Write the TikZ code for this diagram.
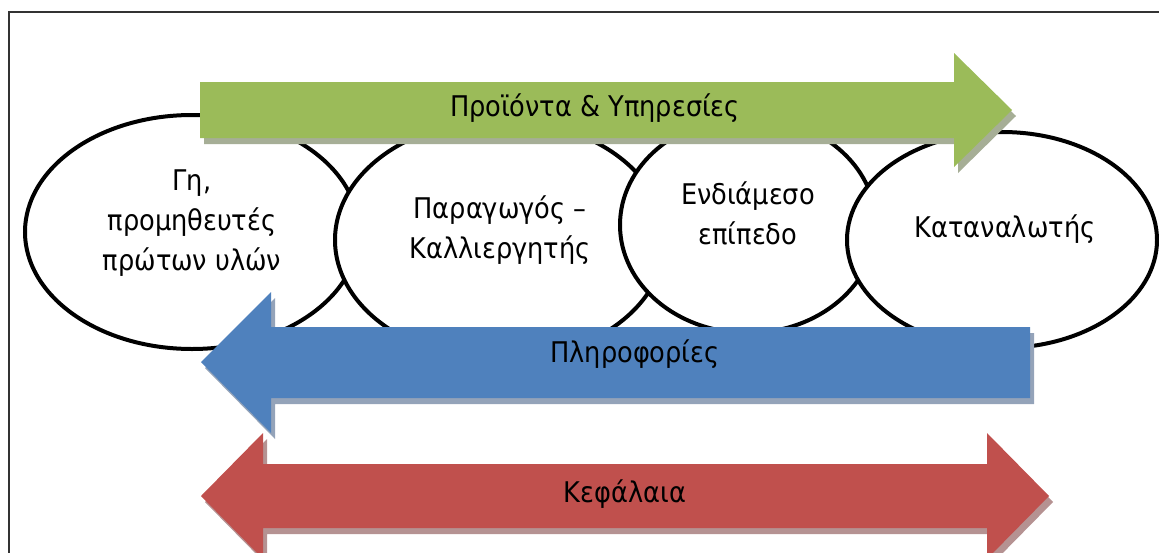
\documentclass[tikz,border=0pt]{standalone}
\usepackage{fontspec}
\setmainfont{DejaVu Sans Condensed}
\usetikzlibrary{shapes.geometric}
\definecolor{flowgreen}{RGB}{155,187,89}
\definecolor{flowblue}{RGB}{79,129,189}
\definecolor{flowred}{RGB}{192,80,77}
\definecolor{shadegreen}{RGB}{166,174,150}
\definecolor{shadeblue}{RGB}{148,163,185}
\definecolor{shadered}{RGB}{181,146,146}
\begin{document}
\begin{tikzpicture}[x=1pt,y=-1pt,
  oval/.style={ellipse, draw=black, line width=4pt, fill=white, inner sep=0pt},
  lbl/.style={align=center, font=\fontsize{28.5}{40}\selectfont, text=black, inner sep=0pt},
  frameline/.style={draw=black!80, line width=1.5pt},
]
\useasboundingbox (0,0) rectangle (1159,552);
\begin{scope}
\clip (0,0) rectangle (1159,552);
% outer frame (runs past the right and bottom edges)
\path[frameline] (9,12) rectangle (1175,575);

% chain of stakeholders, each oval laid over the previous one
\node[oval, minimum width=334pt, minimum height=234pt] (land) at (192,232) {};
\node[oval, minimum width=330pt, minimum height=240pt] (farmer) at (500,240) {};
\node[oval, minimum width=256pt, minimum height=216pt] (middle) at (748,225) {};
\node[oval, minimum width=310pt, minimum height=216pt] (consumer) at (1002,240) {};

\node[lbl] (landtxt) at (192,223) {Γη,\\προμηθευτές\\πρώτων υλών};
\node[lbl] (farmertxt) at (500,230) {Παραγωγός –\\Καλλιεργητής};
\node[lbl] (middletxt) at (748,213) {Ενδιάμεσο\\επίπεδο};
\node[lbl] (consumertxt) at (1005,229) {Καταναλωτής};

% products flow: right-pointing block arrow
\coordinate (gA) at (200,82);
\coordinate (gB) at (954,82);
\coordinate (gC) at (954,53);
\coordinate (gD) at (1012,110);
\coordinate (gE) at (954,167);
\coordinate (gF) at (954,138);
\coordinate (gG) at (200,138);
\fill[shadegreen] ([shift={(4,6)}]gA) -- ([shift={(4,6)}]gB) -- ([shift={(4,6)}]gC) -- ([shift={(4,6)}]gD) -- ([shift={(4,6)}]gE) -- ([shift={(4,6)}]gF) -- ([shift={(4,6)}]gG) -- cycle;
\fill[flowgreen] (gA) -- (gB) -- (gC) -- (gD) -- (gE) -- (gF) -- (gG) -- cycle;
\node[lbl] (goods) at (595,108) {Προϊόντα \& Υπηρεσίες};

% information flow: left-pointing block arrow
\coordinate (bA) at (1030,327);
\coordinate (bB) at (271,327);
\coordinate (bC) at (271,292);
\coordinate (bD) at (201,362);
\coordinate (bE) at (271,433);
\coordinate (bF) at (271,398);
\coordinate (bG) at (1030,398);
\fill[shadeblue] ([shift={(4,6)}]bA) -- ([shift={(4,6)}]bB) -- ([shift={(4,6)}]bC) -- ([shift={(4,6)}]bD) -- ([shift={(4,6)}]bE) -- ([shift={(4,6)}]bF) -- ([shift={(4,6)}]bG) -- cycle;
\fill[flowblue] (bA) -- (bB) -- (bC) -- (bD) -- (bE) -- (bF) -- (bG) -- cycle;
\node[lbl] (info) at (635,354) {Πληροφορίες};

% capital flow: double-headed block arrow
\coordinate (rA) at (201,496);
\coordinate (rB) at (263,433);
\coordinate (rC) at (263,464);
\coordinate (rD) at (987,464);
\coordinate (rE) at (987,433);
\coordinate (rF) at (1049,496);
\coordinate (rG) at (987,559);
\coordinate (rH) at (987,528);
\coordinate (rI) at (263,528);
\coordinate (rJ) at (263,559);
\fill[shadered] ([shift={(4,6)}]rA) -- ([shift={(4,6)}]rB) -- ([shift={(4,6)}]rC) -- ([shift={(4,6)}]rD) -- ([shift={(4,6)}]rE) -- ([shift={(4,6)}]rF) -- ([shift={(4,6)}]rG) -- ([shift={(4,6)}]rH) -- ([shift={(4,6)}]rI) -- ([shift={(4,6)}]rJ) -- cycle;
\fill[flowred] (rA) -- (rB) -- (rC) -- (rD) -- (rE) -- (rF) -- (rG) -- (rH) -- (rI) -- (rJ) -- cycle;
\node[lbl] (capital) at (625,494) {Κεφάλαια};
\end{scope}
\end{tikzpicture}
\end{document}
